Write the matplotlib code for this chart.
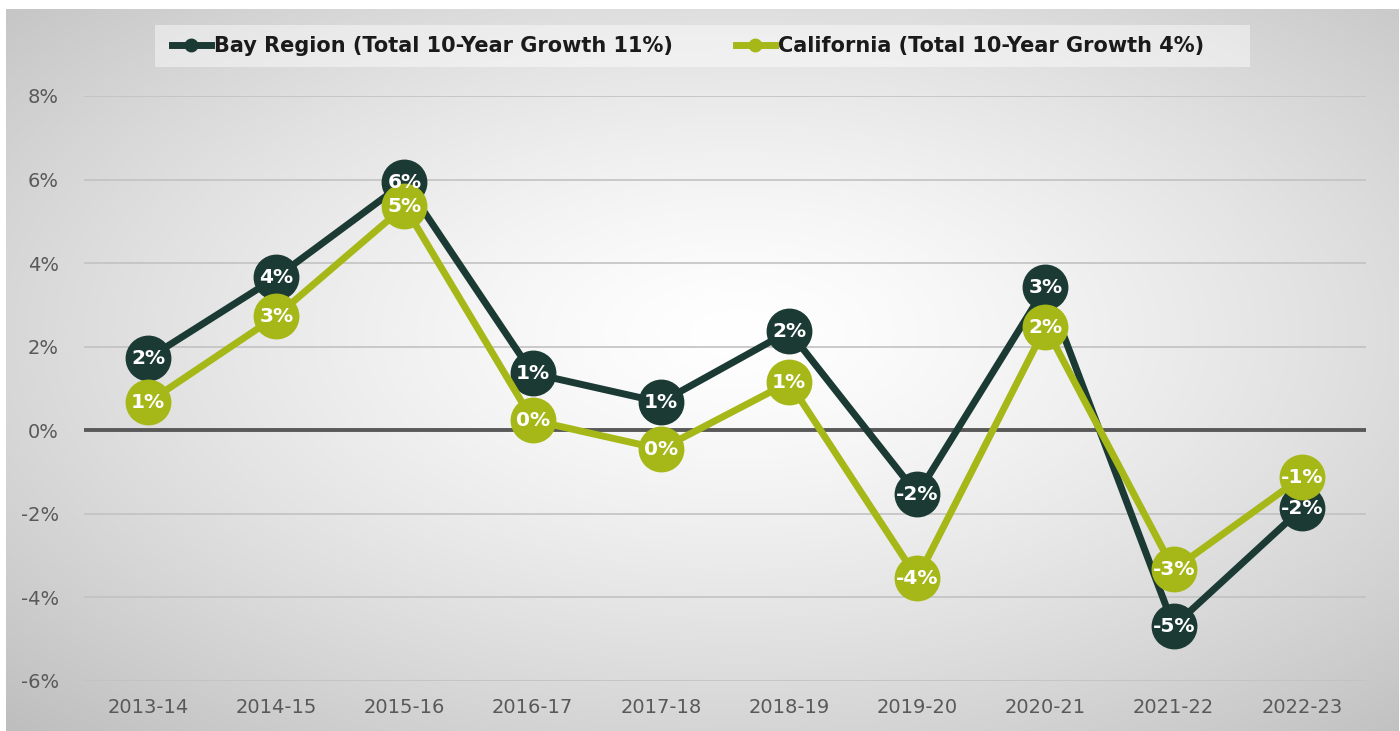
import numpy as np
import matplotlib
matplotlib.use("Agg")
import matplotlib.pyplot as plt
from matplotlib.ticker import FuncFormatter
from matplotlib.lines import Line2D
from matplotlib.patches import Rectangle

years = ["2013-14", "2014-15", "2015-16", "2016-17", "2017-18",
         "2018-19", "2019-20", "2020-21", "2021-22", "2022-23"]
bay = [1.72, 3.66, 5.93, 1.36, 0.67, 2.37, -1.53, 3.42, -4.69, -1.87]
california = [0.67, 2.73, 5.36, 0.24, -0.45, 1.15, -3.54, 2.47, -3.33, -1.12]
bay_label = "Bay Region (Total 10-Year Growth 11%)"
ca_label = "California (Total 10-Year Growth 4%)"

dark = "#1b3a33"
lime = "#a6b817"

fig = plt.figure(figsize=(14, 7.31), dpi=100)

# radial gray background inside a thin white border
bg = fig.add_axes([6 / 1400, 0, 1392 / 1400, 722 / 731], zorder=-10)
gx, gy = np.meshgrid(np.linspace(-1, 1, 700), np.linspace(-1, 1, 366))
r = np.sqrt(((gx - 0.05) / 1.45) ** 2 + ((gy + 0.1) / 1.45) ** 2)
shade = 1.0 - 0.24 * np.clip(r, 0, 1.2) ** 1.35
bg.imshow(np.dstack([shade] * 3), extent=[0, 1, 0, 1], aspect="auto", origin="upper")
bg.axis("off")

ax = fig.add_axes([0.06, 0.0684, 0.9157, 0.8003])
ax.set_facecolor("none")
ax.set_axisbelow(True)
x = np.arange(len(years))

ax.set_xlim(-0.5, len(years) - 0.5)
ax.set_ylim(-6, 8)
ax.set_yticks(np.arange(-6, 9, 2))
ax.yaxis.set_major_formatter(FuncFormatter(lambda v, p: f"{v:.0f}%"))
ax.set_xticks(x)
ax.set_xticklabels(years)
ax.tick_params(axis="both", length=0, labelsize=14, labelcolor="#595959")
ax.tick_params(axis="y", pad=18)
ax.tick_params(axis="x", pad=12)
for s in ax.spines.values():
    s.set_visible(False)
ax.grid(axis="y", color="#c2c2c2", linewidth=1.2)
ax.axhline(0, color="#595959", linewidth=2.8, zorder=2)

ax.plot(x, bay, color=dark, linewidth=5, marker="o", markersize=32,
        label=bay_label, zorder=3)
ax.plot(x, california, color=lime, linewidth=5, marker="o", markersize=32,
        label=ca_label, zorder=4)

for vals in (bay, california):
    for xi, v in zip(x, vals):
        ax.text(xi, v, f"{int(round(v))}%", ha="center", va="center",
                color="white", fontsize=14.5, fontweight="bold", zorder=6)

# legend box
fig.patches.append(Rectangle((155 / 1400, 1 - 67 / 731), 1095 / 1400, 42 / 731,
                             transform=fig.transFigure, facecolor="white",
                             alpha=0.45, edgecolor="none", zorder=-5))
handles = [Line2D([], [], color=dark, linewidth=5, marker="o", markersize=9),
           Line2D([], [], color=lime, linewidth=5, marker="o", markersize=9)]
leg = fig.legend(handles, [bay_label, ca_label], ncol=2,
                 loc="center", bbox_to_anchor=(688 / 1400, 1 - 46 / 731),
                 frameon=False, handlelength=1.9, handletextpad=0.15,
                 columnspacing=3.0,
                 prop={"weight": "bold", "size": 15})
for t in leg.get_texts():
    t.set_color("#1a1a1a")

fig.savefig("out.png", dpi=100)
